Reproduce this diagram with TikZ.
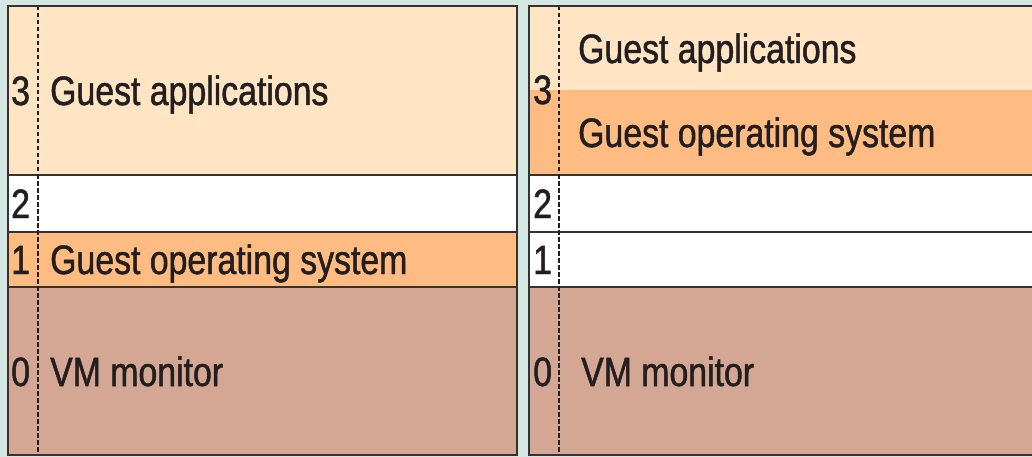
\documentclass[tikz,border=0pt]{standalone}
\usepackage{fontspec}
\newfontfamily\condfont[FakeStretch=0.825,FakeBold=1.2]{Liberation Sans}
\definecolor{bgteal}{HTML}{D5E7E2}
\definecolor{peach}{HTML}{FFE5C4}
\definecolor{orng}{HTML}{FFBC82}
\definecolor{brwn}{HTML}{D3A793}
\definecolor{edge}{HTML}{333333}
\definecolor{ink}{HTML}{231F20}
\tikzset{
  lbl/.style={anchor=base west, inner sep=0pt, text=ink, font=\condfont\fontsize{41}{41}\selectfont},
  rowline/.style={draw=edge, line width=1.6pt},
  frame/.style={draw=edge, line width=2pt},
  ringline/.style={draw=ink, line width=1.8pt, dash pattern=on 4.5pt off 2.5pt},
}
\begin{document}
\begin{tikzpicture}[x=1pt,y=-1pt]
\useasboundingbox (0,0) rectangle (1032,457);
\fill[bgteal] (0,0) rectangle (1032,457);
% ---------- left panel ----------
\fill[peach] (8,6) rectangle (517,175);
\fill[white] (8,175) rectangle (517,232);
\fill[orng] (8,232) rectangle (517,287);
\fill[brwn] (8,287) rectangle (517,455);
\coordinate (l32a) at (8,175); \coordinate (l32b) at (517,175);
\coordinate (l21a) at (8,232); \coordinate (l21b) at (517,232);
\coordinate (l10a) at (8,287); \coordinate (l10b) at (517,287);
\draw[rowline] (l32a) -- (l32b);
\draw[rowline] (l21a) -- (l21b);
\draw[rowline] (l10a) -- (l10b);
\coordinate (ldt) at (38,6); \coordinate (ldb) at (38,455);
\draw[ringline] (ldt) -- (ldb);
\draw[frame] (8,6) rectangle (517,455);
\node[lbl] (l3) at (11,105) {3};
\node[lbl] (lga) at (50,105) {Guest applications};
\node[lbl] (l2) at (11,218) {2};
\node[lbl] (l1) at (11,274) {1};
\node[lbl] (lgo) at (50,274) {Guest operating system};
\node[lbl] (l0) at (11,386) {0};
\node[lbl] (lvm) at (50,386) {VM monitor};
% ---------- right panel ----------
\fill[peach] (529,6) rectangle (1032,90);
\fill[orng] (529,90) rectangle (1032,175);
\fill[white] (529,175) rectangle (1032,287);
\fill[brwn] (529,287) rectangle (1032,455);
\coordinate (r32a) at (529,175); \coordinate (r32b) at (1032,175);
\coordinate (r21a) at (529,232); \coordinate (r21b) at (1032,232);
\coordinate (r10a) at (529,287); \coordinate (r10b) at (1032,287);
\draw[rowline] (r32a) -- (r32b);
\draw[rowline] (r21a) -- (r21b);
\draw[rowline] (r10a) -- (r10b);
\coordinate (rdt) at (559,6); \coordinate (rdb) at (559,455);
\draw[ringline] (rdt) -- (rdb);
\draw[frame] (1040,6) -- (529,6) -- (529,455) -- (1040,455);
\node[lbl] (r3) at (533,104) {3};
\node[lbl] (rga) at (578,63) {Guest applications};
\node[lbl] (rgo) at (578,147) {Guest operating system};
\node[lbl] (r2) at (533,218) {2};
\node[lbl] (r1) at (533,274) {1};
\node[lbl] (r0) at (533,386) {0};
\node[lbl] (rvm) at (581,386) {VM monitor};
\end{tikzpicture}
\end{document}
